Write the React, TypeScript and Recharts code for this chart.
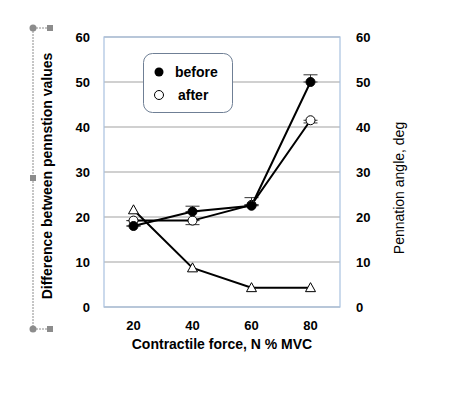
import {
  CartesianGrid,
  Customized,
  ErrorBar,
  Line,
  LineChart,
  XAxis,
  YAxis,
} from 'recharts';

const force = ['20', '40', '60', '80'];
const before = [18, 21.2, 22.5, 50];
const beforeErr = [0, 1.2, 1.8, 1.6];
const after = [19.2, 19.2, 22.7, 41.5];
const afterErr = [0, 0.9, 0, 0.6];
const angle = [21.6, 8.7, 4.3, 4.3];
const ticks = [0, 10, 20, 30, 40, 50, 60];

const data = force.map((f, i) => ({
  force: f,
  before: before[i],
  beforeErr: [0, beforeErr[i]],
  after: after[i],
  afterErr: [afterErr[i], 0],
  angle: angle[i],
}));

const FONT = '"Liberation Sans", Arial, sans-serif';

function TriangleDot(props: any) {
  const { cx, cy } = props;
  if (cx == null || cy == null) return null;
  return (
    <polygon
      points={`${cx},${cy - 5} ${cx - 5},${cy + 4} ${cx + 5},${cy + 4}`}
      fill="#fff"
      stroke="#000"
      strokeWidth={1}
    />
  );
}

function LegendBox() {
  return (
    <g fontFamily={FONT} fontWeight="bold" fontSize={14} fill="#000">
      <rect x={143.5} y={53.5} width={89} height={59} rx={9} fill="#fff" stroke="#6f7f95" />
      <circle cx={159} cy={72} r={4.5} fill="#000" />
      <text x={175} y={77}>before</text>
      <circle cx={159} cy={95} r={4.5} fill="#fff" stroke="#000" />
      <text x={178} y={100}>after</text>
    </g>
  );
}

function Decor() {
  const g = '#8c8c8c';
  return (
    <g>
      <line x1={33} y1={28} x2={33} y2={329} stroke={g} strokeDasharray="2 1" />
      <line x1={33} y1={28} x2={50} y2={28} stroke={g} strokeDasharray="2 1" />
      <line x1={33} y1={329} x2={50} y2={329} stroke={g} strokeDasharray="2 1" />
      <circle cx={33} cy={28} r={3.5} fill={g} />
      <circle cx={33} cy={329} r={3.5} fill={g} />
      <rect x={47} y={25} width={6} height={6} fill={g} />
      <rect x={47} y={326} width={6} height={6} fill={g} />
      <rect x={30} y={175} width={6} height={6} fill={g} />
      <text
        x={52}
        y={176}
        transform="rotate(-90 52 176)"
        textAnchor="middle"
        fontFamily={FONT}
        fontWeight="bold"
        fontSize={14}
        fill="#000"
      >
        Difference between pennstion values
      </text>
      <text
        x={404}
        y={188}
        transform="rotate(-90 404 188)"
        textAnchor="middle"
        fontFamily={FONT}
        fontSize={14}
        fill="#000"
      >
        Pennation angle, deg
      </text>
      <text
        x={222}
        y={349}
        textAnchor="middle"
        fontFamily={FONT}
        fontWeight="bold"
        fontSize={14}
        fill="#000"
      >
        Contractile force, N % MVC
      </text>
    </g>
  );
}

export default function App() {
  const tickStyle = { fontFamily: FONT, fontWeight: 'bold', fontSize: 13, fill: '#000' };
  return (
    <div style={{ position: 'absolute', left: 0, top: 0, background: '#fff' }}>
      <LineChart
        width={471}
        height={394}
        data={data}
        margin={{ top: 37, right: 0, bottom: 0, left: 0 }}
      >
        <CartesianGrid horizontal vertical={false} stroke="#c0c0c0" strokeWidth={1.5} yAxisId="left" />
        <XAxis
          dataKey="force"
          axisLine={false}
          tickLine={false}
          tickSize={0}
          tickMargin={14}
          height={87}
          padding={{ left: 29.5, right: 29.5 }}
          tick={tickStyle}
        />
        <YAxis
          yAxisId="left"
          domain={[0, 60]}
          ticks={ticks}
          axisLine={false}
          tickLine={false}
          tickSize={0}
          tickMargin={14}
          width={104}
          tick={tickStyle}
        />
        <YAxis
          yAxisId="right"
          orientation="right"
          domain={[0, 60]}
          ticks={ticks}
          axisLine={false}
          tickLine={false}
          tickSize={0}
          tickMargin={16}
          width={131}
          tick={{ ...tickStyle, textAnchor: 'start' }}
        />
        <Customized
          component={() => (
            <rect
              x={104}
              y={37}
              width={236}
              height={270}
              fill="none"
              stroke="#a9c1e0"
              strokeWidth={1.2}
            />
          )}
        />
        {/* error bars drawn first so the dots sit on top of them */}
        <Line
          yAxisId="left"
          dataKey="after"
          stroke="none"
          dot={false}
          activeDot={false}
          isAnimationActive={false}
        >
          <ErrorBar dataKey="afterErr" width={7} stroke="#333" strokeWidth={1} direction="y" />
        </Line>
        <Line
          yAxisId="left"
          dataKey="before"
          stroke="none"
          dot={false}
          activeDot={false}
          isAnimationActive={false}
        >
          <ErrorBar dataKey="beforeErr" width={7} stroke="#333" strokeWidth={1} direction="y" />
        </Line>
        <Line
          yAxisId="right"
          dataKey="angle"
          stroke="#000"
          strokeWidth={2}
          dot={<TriangleDot />}
          isAnimationActive={false}
        />
        <Line
          yAxisId="left"
          dataKey="after"
          stroke="#000"
          strokeWidth={2}
          dot={{ r: 4.5, fill: '#fff', stroke: '#000', strokeWidth: 1 }}
          isAnimationActive={false}
        />
        <Line
          yAxisId="left"
          dataKey="before"
          stroke="#000"
          strokeWidth={2}
          dot={{ r: 4.5, fill: '#000', stroke: '#000', strokeWidth: 1 }}
          isAnimationActive={false}
        />
        <Customized component={() => <Decor />} />
        <Customized component={() => <LegendBox />} />
      </LineChart>
    </div>
  );
}
